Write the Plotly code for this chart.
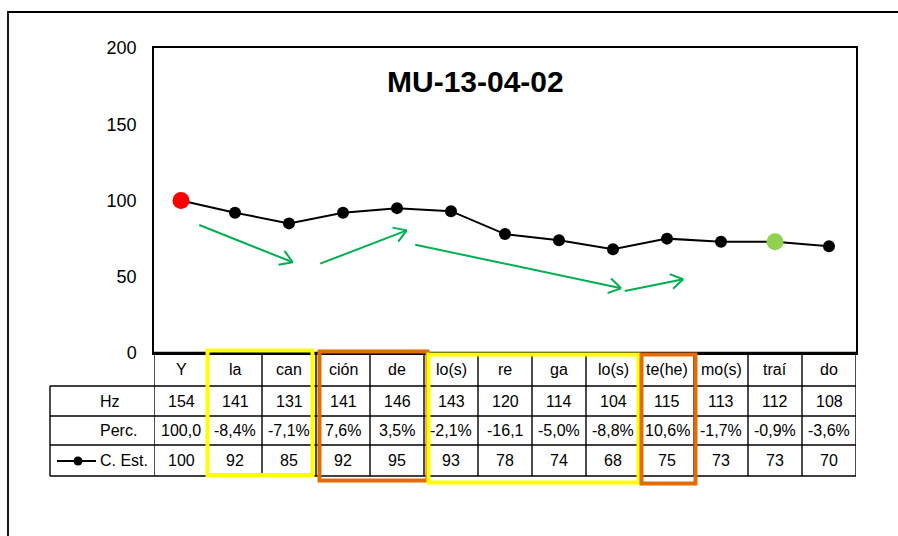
import math
import plotly.graph_objects as go

# ---------------- data ----------------
categories = ["Y", "la", "can", "ción", "de", "lo(s)", "re", "ga", "lo(s)", "te(he)", "mo(s)", "traí", "do"]
hz_values = [154, 141, 131, 141, 146, 143, 120, 114, 104, 115, 113, 112, 108]
perc_labels = ["100,0", "-8,4%", "-7,1%", "7,6%", "3,5%", "-2,1%", "-16,1", "-5,0%", "-8,8%", "10,6%", "-1,7%", "-0,9%", "-3,6%"]
c_est = [100, 92, 85, 92, 95, 93, 78, 74, 68, 75, 73, 73, 70]
row_labels = ["Hz", "Perc.", "C. Est."]
y_ticks = [0, 50, 100, 150, 200]
title_text = "MU-13-04-02"
# hand-drawn green trend arrows: (x_start, y_start, x_end, y_end) in data units
trend_arrows = [
    (0.31, 84.3, 2.07, 59.5),
    (2.55, 58.2, 4.18, 80.4),
    (4.31, 71.2, 8.15, 42.5),
    (8.19, 40.5, 9.30, 48.4),
]
first_idx, green_idx = 0, 11

# ---------------- layout geometry ----------------
W, H = 898, 536
L, R, T, B = 154, 42, 48, 183
PW, PH = W - L - R, H - T - B
YMAX = 200
NX = len(categories)


def px(xp):
    return (xp - L) / PW


def py(yp):
    return (H - B - yp) / PH


REG = "Liberation Sans, Arial"

xs = list(range(NX))
colors = ["#000000"] * NX
sizes = [12] * NX
colors[first_idx] = "#FF0000"
sizes[first_idx] = 17
colors[green_idx] = "#92D050"
sizes[green_idx] = 17

fig = go.Figure()
fig.add_trace(go.Scatter(
    x=xs, y=c_est, mode="lines+markers",
    line=dict(color="black", width=2),
    marker=dict(color=colors, size=sizes, opacity=1, line=dict(width=0)),
    opacity=1,
    cliponaxis=False, showlegend=False, hoverinfo="skip",
))

shapes = []
annotations = []

# outer frame
shapes.append(dict(type="rect", xref="paper", yref="paper",
                   x0=px(8), x1=px(1100), y0=py(12), y1=py(800),
                   line=dict(color="black", width=1.8)))

# table grid
grid = dict(color="black", width=1.4)
row_lines = [386, 416, 445, 476]
for yl in row_lines:
    shapes.append(dict(type="line", xref="paper", yref="paper",
                       x0=px(50), x1=px(W - R), y0=py(yl), y1=py(yl), line=grid))
shapes.append(dict(type="line", xref="paper", yref="paper",
                   x0=0, x1=1, y0=0, y1=0, line=dict(color="black", width=2.5)))
shapes.append(dict(type="line", xref="paper", yref="paper",
                   x0=px(50), x1=px(50), y0=py(386), y1=py(476), line=grid))
for k in range(NX + 1):
    shapes.append(dict(type="line", xref="x", yref="paper",
                       x0=k - 0.5, x1=k - 0.5, y0=0, y1=py(476), line=grid))

# table texts
row_centers = [369.5, 401, 430.5, 460.5]
tfont = dict(family=REG, size=16, color="black")
rows = [categories, [str(v) for v in hz_values], perc_labels, [str(v) for v in c_est]]
for r, vals in enumerate(rows):
    for i, t in enumerate(vals):
        annotations.append(dict(x=i, y=py(row_centers[r]), xref="x", yref="paper",
                                text=t, showarrow=False, font=tfont,
                                xanchor="center", yanchor="middle"))
for r, lab in enumerate(row_labels):
    annotations.append(dict(x=px(98), y=py(row_centers[r + 1]), xref="paper", yref="paper",
                            text=lab, showarrow=False, font=tfont,
                            xanchor="left", yanchor="middle"))

# legend key in table
shapes.append(dict(type="line", xref="paper", yref="paper",
                   x0=px(57), x1=px(96), y0=py(461), y1=py(461),
                   line=dict(color="black", width=2)))
shapes.append(dict(type="circle", xref="paper", yref="paper",
                   x0=px(73.5), x1=px(82.5), y0=py(465.5), y1=py(456.5),
                   fillcolor="black", line=dict(color="black", width=0)))

# highlight boxes
boxes = [
    ((207.5, 350.5, 312.5, 475), "#FFFF00"),
    ((319.5, 351.5, 427.5, 480.5), "#E36C09"),
    ((428.5, 354.5, 638.5, 482.5), "#FFFF00"),
    ((641.5, 354.5, 695.5, 483.5), "#E36C09"),
]
for (x0, y0, x1, y1), c in boxes:
    shapes.append(dict(type="rect", xref="paper", yref="paper",
                       x0=px(x0), x1=px(x1), y0=py(y0), y1=py(y1),
                       line=dict(color=c, width=4)))

# green arrows
GREEN = "#00B050"
sx = PW / NX
sy = PH / YMAX
for (x0, y0, x1, y1) in trend_arrows:
    annotations.append(dict(x=x1, y=y1, ax=x0, ay=y0, xref="x", yref="y",
                            axref="x", ayref="y", text="", showarrow=True,
                            arrowhead=0, arrowwidth=2, arrowcolor=GREEN,
                            standoff=0, startstandoff=0))
    dxp = (x0 - x1) * sx
    dyp = -(y0 - y1) * sy
    ang = math.atan2(dyp, dxp)
    for da in (math.radians(32), -math.radians(32)):
        a = ang + da
        annotations.append(dict(x=x1, y=y1, xref="x", yref="y",
                                ax=16 * math.cos(a), ay=16 * math.sin(a),
                                text="", showarrow=True, arrowhead=0,
                                arrowwidth=2, arrowcolor=GREEN,
                                standoff=0, startstandoff=0))

# title
annotations.append(dict(x=px(475), y=py(82), xref="paper", yref="paper",
                        text="<b>%s</b>" % title_text, showarrow=False,
                        font=dict(family=REG, size=30, color="black"),
                        xanchor="center", yanchor="middle"))

fig.update_layout(
    width=W, height=H,
    margin=dict(l=L, r=R, t=T, b=B, pad=0),
    paper_bgcolor="white", plot_bgcolor="white",
    showlegend=False,
    shapes=shapes, annotations=annotations,
    xaxis=dict(range=[-0.5, NX - 0.5], showticklabels=False, showgrid=False,
               zeroline=False, showline=True, mirror=True, linecolor="black",
               linewidth=1.5, ticks="", fixedrange=True),
    yaxis=dict(range=[0, YMAX], tickvals=y_ticks, showgrid=False, zeroline=False,
               showline=True, mirror=True, linecolor="black", linewidth=1.5,
               ticks="", ticklabelstandoff=12,
               tickfont=dict(family=REG, size=18, color="black"), fixedrange=True),
)

fig.write_html("out.html", config={"displayModeBar": False},
               post_script="document.body.style.margin='0';document.body.style.overflow='hidden';")
